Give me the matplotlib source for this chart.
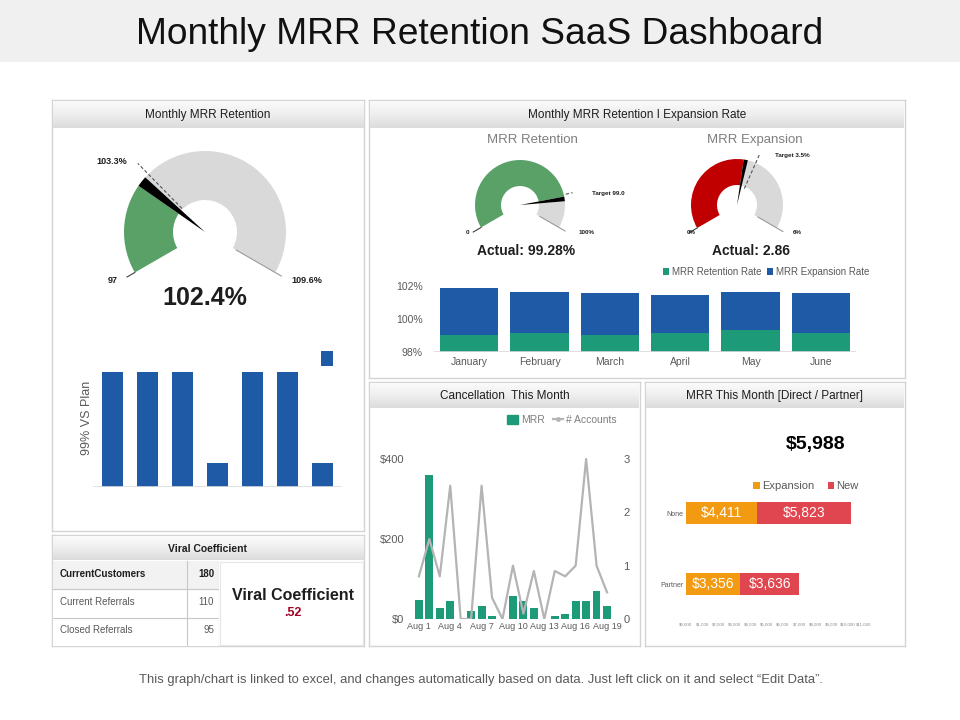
import numpy as np
import matplotlib
matplotlib.use("Agg")
import matplotlib.pyplot as plt
from matplotlib.patches import Wedge, Patch
from matplotlib.lines import Line2D
from matplotlib.colors import LinearSegmentedColormap

plt.rcParams['font.family'] = ['Liberation Sans', 'DejaVu Sans']

W, H = 960, 720

# ---------------- data ----------------
# gauge fractions are read off the picture (share of the 240 degree sweep)
g1_fill, g1_needle, g1_target = 0.27, 0.032, 0.315
g1_min, g1_max, g1_tgt_lbl, g1_actual = "97", "109.6%", "103.3%", "102.4%"

g2_fill, g2_needle, g2_target = 0.83, 0.025, 0.82
g2_min, g2_max, g2_tgt_lbl, g2_actual = "0", "100%", "Target 99.0", "Actual: 99.28%"

g3_fill, g3_needle, g3_target = 0.535, 0.022, 0.60
g3_min, g3_max, g3_tgt_lbl, g3_actual = "0%", "6%", "Target 3.5%", "Actual: 2.86"

plan_vals = [100, 100, 100, 21, 100, 100, 21]
plan_marker = [0, 0, 0, 0, 0, 0, 13]
plan_marker_base = 105

months = ["January", "February", "March", "April", "May", "June"]
retention_rate = [99.0, 99.15, 99.0, 99.15, 99.3, 99.15]
expansion_rate = [2.84, 2.45, 2.55, 2.30, 2.30, 2.40]

days = ["Aug %d" % d for d in range(1, 20)]
cancel_mrr = [48, 361, 27, 44, 0, 19, 33, 8, 0, 58, 44, 27, 0, 8, 13, 44, 44, 71, 33]
cancel_accounts = [0.8, 1.5, 0.8, 2.5, 0, 0, 2.5, 0.4, 0, 1.0, 0.1, 0.9, 0, 0.9, 0.8, 1.0, 3.0, 1.0, 0.5]

channels = ["None", "Partner"]
mrr_expansion = [4411, 3356]
mrr_new = [5823, 3636]
mrr_total = "$5,988"

viral_rows = ["CurrentCustomers", "Current Referrals", "Closed Referrals"]
viral_vals = [180, 110, 95]
viral_coef = ".52"

# ---------------- colours ----------------
BLUE = "#1f5aa6"
TEAL = "#1d9a78"
GGREEN = "#5aa168"
GRAY = "#d9d9d9"
RED = "#c00000"
ORANGE = "#f29b12"
NEWRED = "#e04650"
TXT = "#1e1e1e"
SUB = "#595959"

fig = plt.figure(figsize=(9.6, 7.2), dpi=100)
fig.patch.set_facecolor("white")


def px_ax(x0, y0, x1, y1, **kw):
    return fig.add_axes([x0 / W, 1 - y1 / H, (x1 - x0) / W, (y1 - y0) / H], **kw)


def ftext(x, y, s, **kw):
    kw.setdefault("ha", "center")
    kw.setdefault("va", "center")
    kw.setdefault("color", TXT)
    return fig.text(x / W, 1 - y / H, s, **kw)


def blank(ax):
    ax.set_xticks([])
    ax.set_yticks([])
    for s in ax.spines.values():
        s.set_visible(False)


hdr_cmap = LinearSegmentedColormap.from_list("hdr", ["#fbfbfb", "#eeeeee", "#dcdcdc"])


def panel(x0, y0, x1, y1, hy, title, size=8.5, weight="normal"):
    a = px_ax(x0, y0, x1, y1)
    a.set_xticks([])
    a.set_yticks([])
    for s in a.spines.values():
        s.set_color("#d4d4d4")
        s.set_linewidth(1)
    h = px_ax(x0 + 1, y0 + 1, x1 - 1, hy)
    h.imshow(np.linspace(0, 1, 40).reshape(-1, 1), aspect="auto", cmap=hdr_cmap,
             extent=[0, 1, 0, 1], origin="upper")
    blank(h)
    ftext((x0 + x1) / 2, (y0 + hy) / 2 + 1, title, fontsize=size, fontweight=weight)


# title band
band = px_ax(0, 0, W, 62)
band.set_facecolor("#f0f0f0")
blank(band)
ftext(480, 35, "Monthly MRR Retention SaaS Dashboard", fontsize=26.7, color="#111111")

panel(52, 100, 364, 531, 128, "Monthly MRR Retention")
panel(369, 100, 905, 378, 128, "Monthly MRR Retention I Expansion Rate")
panel(369, 382, 640, 646, 408, "Cancellation  This Month")
panel(645, 382, 905, 646, 408, "MRR This Month [Direct / Partner]")
panel(52, 535, 364, 646, 560, "Viral Coefficient", size=7.5, weight="bold")


# ---------------- gauges ----------------
def ang(f):
    return 210 - 240 * f


def gauge(cx, cy, half, r_out, r_in, fill, needle, target, fill_col, t_r0, t_r1):
    ax = px_ax(cx - half, cy - half, cx + half, cy + half)
    ax.set_xlim(-half, half)
    ax.set_ylim(-half, half)
    ax.axis("off")
    w = r_out - r_in
    ax.add_patch(Wedge((0, 0), r_out, ang(fill), 210, width=w, fc=fill_col, ec="none"))
    ax.add_patch(Wedge((0, 0), r_out, -30, ang(fill + needle), width=w, fc=GRAY, ec="none"))
    ax.add_patch(Wedge((0, 0), r_out, ang(fill + needle), ang(fill), fc="black", ec="none"))
    t = np.deg2rad(ang(target))
    ax.plot([t_r0 * np.cos(t), t_r1 * np.cos(t)], [t_r0 * np.sin(t), t_r1 * np.sin(t)],
            color="#555555", lw=0.8, ls=(0, (3, 2)))
    for a0, ra, rb, c in [(210, r_out, r_out + 9, "#404040"), (-30, r_in + 4, r_out + 7, "#9a9a9a")]:
        t = np.deg2rad(a0)
        ax.plot([ra * np.cos(t), rb * np.cos(t)], [ra * np.sin(t), rb * np.sin(t)], color=c, lw=0.8)
    return ax


gauge(205, 232, 100, 81, 32, g1_fill, g1_needle, g1_target, GGREEN, 33, 96)
ftext(112, 161, g1_tgt_lbl, fontsize=6.5, fontweight="bold")
ftext(113, 281, g1_min, fontsize=6.5, fontweight="bold")
ftext(307, 281, g1_max, fontsize=6.5, fontweight="bold")
ftext(205, 298, g1_actual, fontsize=18, fontweight="bold")

gauge(520, 205, 60, 45, 19, g2_fill, g2_needle, g2_target, GGREEN, 47, 54)
ftext(532, 140, "MRR Retention", fontsize=9.5, color="#7f7f7f")
ftext(467, 233, g2_min, fontsize=4.5, fontweight="bold")
ftext(587, 233, g2_max, fontsize=4.5, fontweight="bold")
ftext(592, 193, g2_tgt_lbl, fontsize=4.5, fontweight="bold", ha="left")
ftext(526, 251, g2_actual, fontsize=10, fontweight="bold")

gauge(737, 205, 60, 46, 20, g3_fill, g3_needle, g3_target, RED, 18, 56)
ftext(755, 140, "MRR Expansion", fontsize=9.5, color="#7f7f7f")
ftext(691, 233, g3_min, fontsize=4.5, fontweight="bold")
ftext(797, 233, g3_max, fontsize=4.5, fontweight="bold")
ftext(775, 156, g3_tgt_lbl, fontsize=4.5, fontweight="bold", ha="left")
ftext(751, 251, g3_actual, fontsize=10, fontweight="bold")

# ---------------- 99% vs plan bars ----------------
ax1 = px_ax(93, 345, 342, 487)
x1 = np.arange(len(plan_vals))
ax1.bar(x1, plan_vals, width=0.6, color=BLUE)
ax1.bar(x1 + 0.14, plan_marker, width=0.32, bottom=plan_marker_base, color=BLUE, lw=0)
ax1.set_xlim(-0.557, 6.57)
ax1.set_ylim(0, 123.5)
blank(ax1)
ax1.axhline(0, color="#dddddd", lw=1.2)
ftext(87, 418, "99% VS Plan", fontsize=9, color=SUB, rotation=90)

# ---------------- retention / expansion stacked bars ----------------
ax2 = px_ax(434, 280, 856, 351.7)
x2 = np.arange(len(months))
b_ret = ax2.bar(x2, retention_rate, width=0.83, color=TEAL, label="MRR Retention Rate")
b_exp = ax2.bar(x2, expansion_rate, width=0.83, bottom=retention_rate, color=BLUE,
                label="MRR Expansion Rate")
ax2.set_xlim(-0.5, 5.5)
ax2.set_ylim(98, 102.35)
ax2.set_yticks([98, 100, 102])
ax2.set_yticklabels(["98%", "100%", "102%"], fontsize=7.5, color=SUB)
ax2.set_xticks(x2)
ax2.set_xticklabels(months, fontsize=7.5, color=SUB)
ax2.tick_params(length=0, pad=4)
ax2.tick_params(axis="y", pad=8)
for s in ax2.spines.values():
    s.set_visible(False)
ax2.axhline(98, color="#d9d9d9", lw=1.2)
ax2.legend(handles=[b_ret, b_exp], loc="center", ncol=2, frameon=False, fontsize=7,
           handlelength=0.6, handleheight=0.6, handletextpad=0.3, columnspacing=0.6,
           labelcolor=SUB, bbox_to_anchor=(766 / W, 1 - 272 / H), bbox_transform=fig.transFigure)

# ---------------- cancellation ----------------
ax3 = px_ax(410, 440, 618, 619)
x3 = np.arange(len(days))
ax3.bar(x3, cancel_mrr, width=0.75, color=TEAL)
ax3.set_xlim(-0.85, 19.05)
ax3.set_ylim(0, 447.5)
ax3.set_yticks([0, 200, 400])
ax3.set_yticklabels(["$0", "$200", "$400"], fontsize=8, color=SUB)
ax3.set_xticks(x3[::3])
ax3.set_xticklabels(days[::3], fontsize=6.5, color=SUB)
ax3.tick_params(length=0, pad=2)
ax3.tick_params(axis="y", pad=4)
ax3r = ax3.twinx()
ax3r.plot(x3, cancel_accounts, color="#b4b4b4", lw=1.6)
ax3r.set_ylim(0, 3.356)
ax3r.set_yticks([0, 1, 2, 3])
ax3r.set_yticklabels(["0", "1", "2", "3"], fontsize=8, color=SUB)
ax3r.tick_params(length=0, pad=4)
for a in (ax3, ax3r):
    for s in a.spines.values():
        s.set_visible(False)
ax3.legend(handles=[Patch(color=TEAL, label="MRR"),
                    Line2D([], [], color="#b4b4b4", lw=1.6, marker="o", markersize=2.5,
                           label="# Accounts")],
           loc="center", ncol=2, frameon=False, fontsize=7.5, labelcolor="#7f7f7f",
           handlelength=1.0, handleheight=0.9, handletextpad=0.3, columnspacing=0.8,
           bbox_to_anchor=(562 / W, 1 - 420 / H), bbox_transform=fig.transFigure)

# ---------------- MRR this month ----------------
ax4 = px_ax(686, 470, 880, 620)
y4 = np.array([1, 0])
b_e = ax4.barh(y4, mrr_expansion, height=0.31, color=ORANGE, label="Expansion")
b_n = ax4.barh(y4, mrr_new, height=0.31, left=mrr_expansion, color=NEWRED, label="New")
for i in range(len(channels)):
    ax4.text(mrr_expansion[i] / 2, y4[i], "${:,}".format(mrr_expansion[i]), ha="center",
             va="center", color="white", fontsize=10)
    ax4.text(mrr_expansion[i] + mrr_new[i] / 2, y4[i], "${:,}".format(mrr_new[i]),
             ha="center", va="center", color="white", fontsize=10)
ax4.set_xlim(0, 12000)
ax4.set_ylim(-0.507, 1.606)
ax4.set_yticks(y4)
ax4.set_yticklabels(channels, fontsize=5, color=SUB)
xt = np.arange(0, 12000, 1000)
ax4.set_xticks(xt)
ax4.set_xticklabels(["$0,000"] + ["${:,}".format(v) for v in xt[1:]], fontsize=3.2, color="#8c8c8c")
ax4.tick_params(length=0, pad=2)
for s in ax4.spines.values():
    s.set_visible(False)
ax4.legend(handles=[b_e, b_n], loc="center", ncol=2, frameon=False, fontsize=8,
           handlelength=0.6, handleheight=0.6, handletextpad=0.2, columnspacing=1.2,
           labelcolor=SUB, bbox_to_anchor=(806 / W, 1 - 486 / H), bbox_transform=fig.transFigure)
ftext(816, 445, mrr_total, fontsize=14, fontweight="bold", color="black")

# ---------------- viral coefficient ----------------
ax5 = px_ax(53, 561, 219, 646)
ax5.set_xlim(0, 1)
ax5.set_ylim(len(viral_rows), 0)
blank(ax5)
ax5.axhspan(0, 1, color="#f2f2f2")
for r in range(1, len(viral_rows)):
    ax5.axhline(r, color="#c8c8c8", lw=0.8)
ax5.axvline(0.81, color="#c8c8c8", lw=0.8)
ax5.axvline(1.0, color="#c8c8c8", lw=0.8)
for r, (name, v) in enumerate(zip(viral_rows, viral_vals)):
    wt = "bold" if r == 0 else "normal"
    col = TXT if r == 0 else SUB
    ax5.text(0.04, r + 0.45, name, fontsize=7, fontweight=wt, color=col, va="center")
    ax5.text(0.97, r + 0.45, str(v), fontsize=7, fontweight=wt, color=col, va="center", ha="right")

box = px_ax(220, 562, 363, 645)
box.set_xticks([])
box.set_yticks([])
for s in box.spines.values():
    s.set_color("#e6e6e6")
ftext(293, 595, "Viral Coefficient", fontsize=11.5, fontweight="bold")
ftext(293, 613, viral_coef, fontsize=9, fontweight="bold", color="#a50021")

ftext(481, 680, "This graph/chart is linked to excel, and changes automatically based on data. "
      "Just left click on it and select \u201cEdit Data\u201d.", fontsize=9.4, color=SUB)

fig.savefig("out.png", dpi=100)
